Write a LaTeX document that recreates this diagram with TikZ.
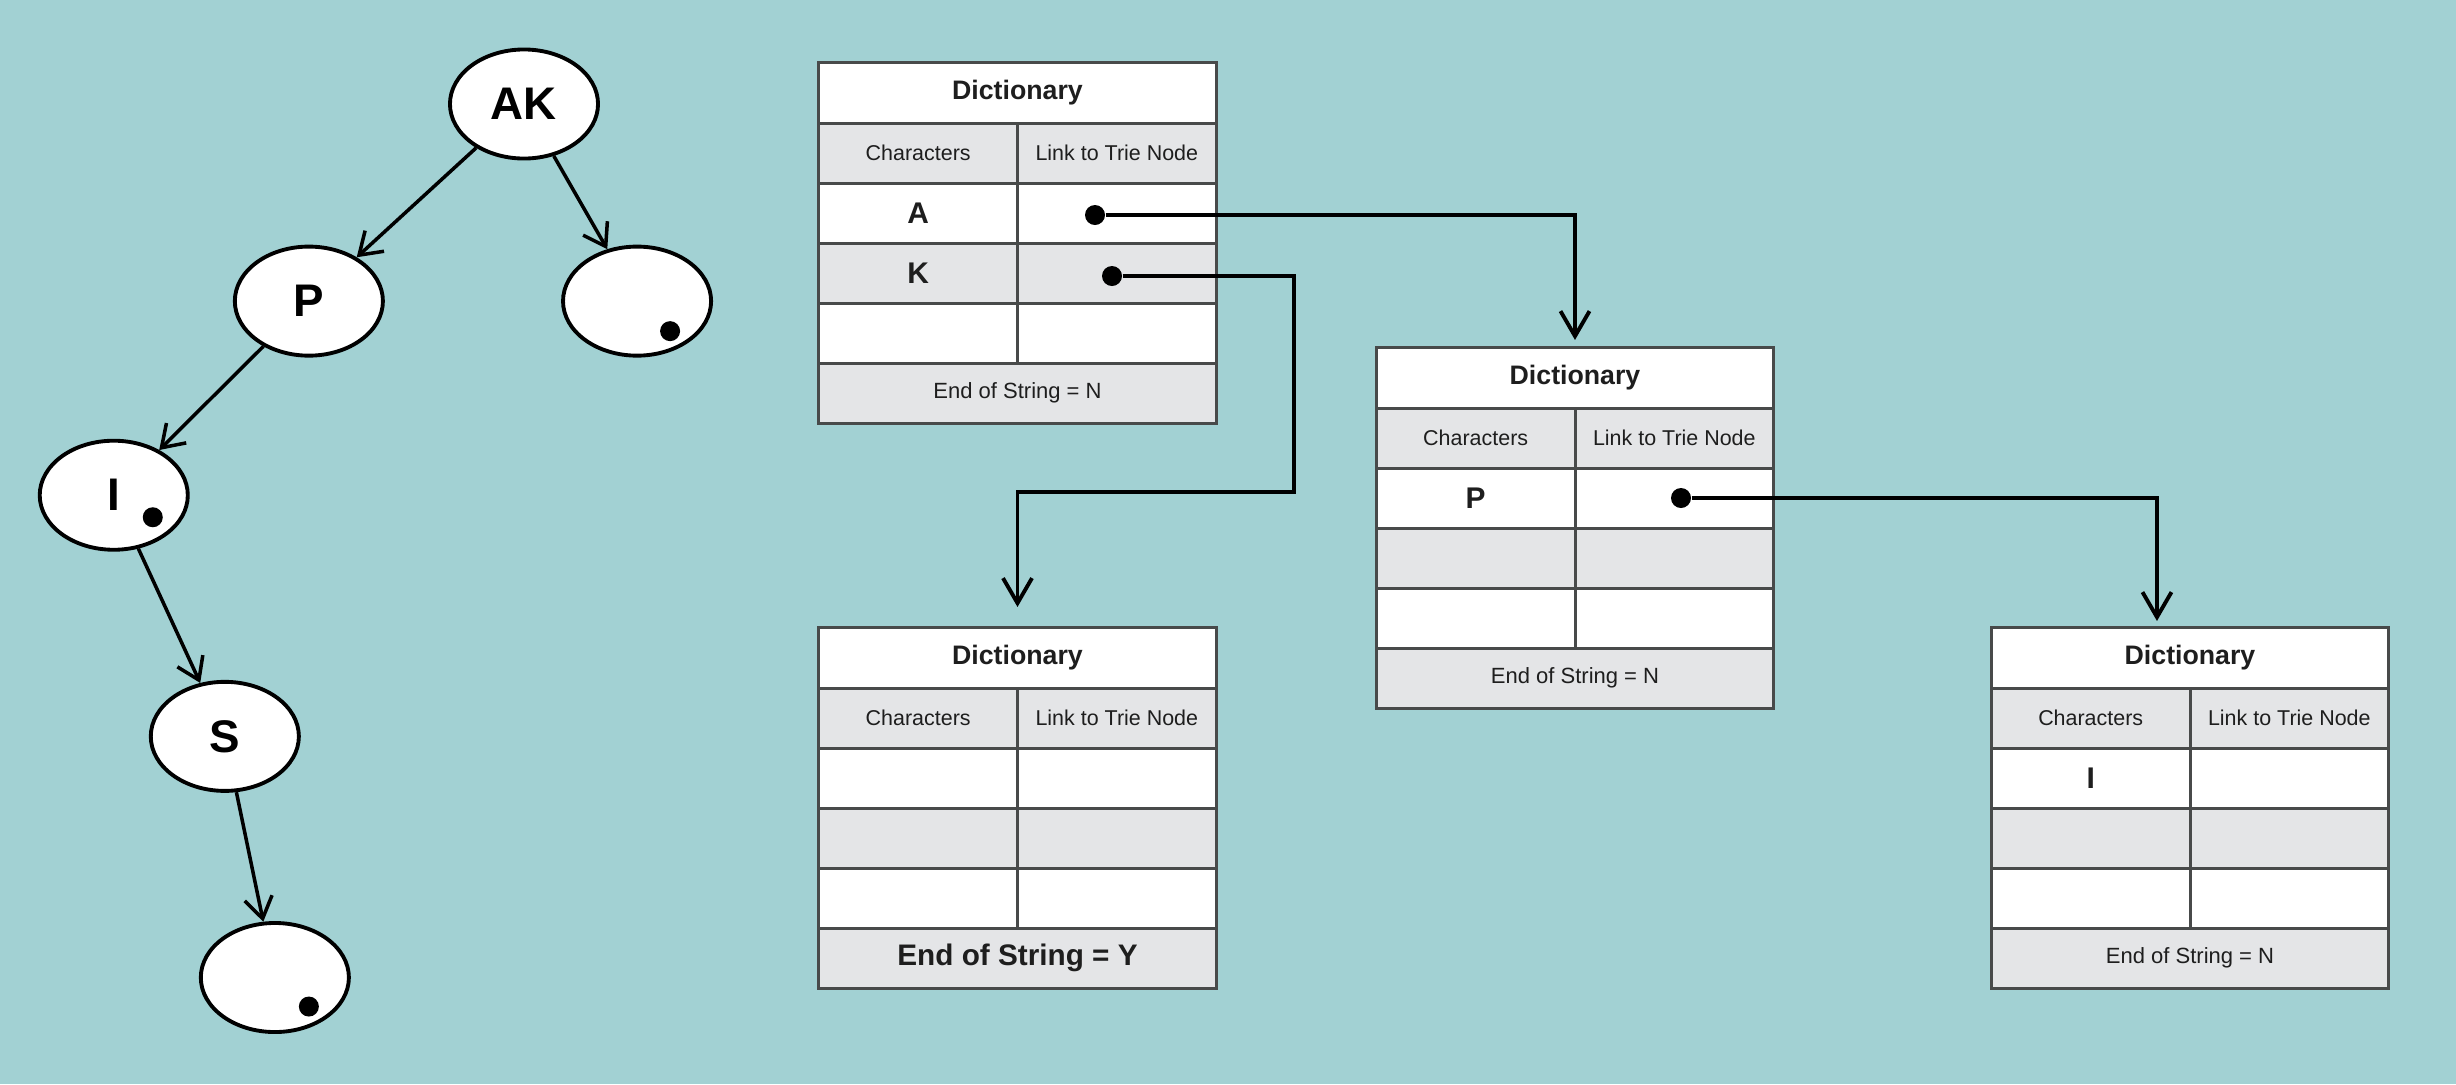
\documentclass[tikz,border=0pt]{standalone}
\usepackage{fontspec}
\setmainfont{Liberation Sans}
\usetikzlibrary{positioning,arrows.meta,shapes.geometric}
\definecolor{bgteal}{RGB}{162,209,211}
\definecolor{cellgray}{RGB}{228,229,231}
\definecolor{rulegray}{RGB}{72,74,74}
\definecolor{inkgray}{RGB}{30,30,30}
\tikzstyle{trienode}=[
	draw=black,
	shape=ellipse,
	fill=white,
	line width=1.1pt,
	minimum width=1.48cm,
	minimum height=1.09cm,
	inner sep=0pt,
	font=\fontsize{13}{13}\selectfont\bfseries
]
\tikzstyle{tdot}=[shape=circle,fill=black,minimum size=0.2cm,inner sep=0pt]
\tikzstyle{tstyle} = [line width=1pt,-{Straight Barb[length=0.21cm,width=0.28cm]}]
\tikzstyle{lstyle} = [draw=black,line width=1.1pt,-{Straight Barb[length=0.25cm,width=0.29cm]}]
\tikzstyle{cellbox}=[
	draw=rulegray,
	line width=0.85pt,
	fill=white,
	minimum width=1.985cm,
	minimum height=0.6cm,
	inner sep=0pt,
	outer sep=0pt,
	text=inkgray,
	font=\fontsize{6.1}{7}\selectfont
]
\tikzstyle{charbox} = [cellbox,font=\fontsize{8.5}{9}\selectfont\bfseries]
\tikzstyle{titlebox} = [cellbox,minimum width=3.97cm,font=\fontsize{7.6}{9}\selectfont\bfseries]
\tikzstyle{eosbox} = [cellbox,minimum width=3.97cm,fill=cellgray,font=\fontsize{6.26}{7}\selectfont]

\begin{document}
\begin{tikzpicture}[x=0.01cm,y=-0.01cm,on grid,node distance=0.6cm]

				\path[use as bounding box,fill=bgteal] (0,0) rectangle (2456,1084);

				% trie
				\node[trienode]	(AK)	at (524,104) {AK};
				\node[trienode]	(P) [below left=1.97cm and 2.15cm of AK] {P};
				\node[trienode]	(R) [below right=1.97cm and 1.13cm of AK] {};
				\node[trienode]	(I) [below left=1.94cm and 1.95cm of P] {I};
				\node[trienode]	(S) [below right=2.41cm and 1.11cm of I] {S};
				\node[trienode]	(E) [below right=2.41cm and 0.5cm of S] {};
				\node[tdot]	(Rdot) [below right=0.3cm and 0.33cm of R] {};
				\node[tdot]	(Idot) [below right=0.22cm and 0.39cm of I] {};
				\node[tdot]	(Edot) [below right=0.29cm and 0.34cm of E] {};

				\path[tstyle]
				(AK) edge (P)
				(AK) edge (R)
				(P) edge (I)
				(I) edge (S)
				(S) edge (E);

				% dictionaries
				\foreach \tbl/\pos/\ca/\cb/\eos in {
					d1/{1017.5,93}/A/K/{End of String = N},
					d2/{1017.5,658}/{}/{}/{\bfseries\fontsize{8.45}{9}\selectfont End of String = Y},
					d3/{1575,378}/P/{}/{End of String = N},
					d4/{2190,658}/I/{}/{End of String = N}}
				{
					\node[titlebox] (\tbl) at (\pos) {Dictionary};
					\node[cellbox,fill=cellgray] (\tbl-h1) [below left=0.6cm and 0.9925cm of \tbl] {Characters};
					\node[cellbox,fill=cellgray] (\tbl-h2) [right=1.985cm of \tbl-h1] {Link to Trie Node};
					\node[charbox] (\tbl-a1) [below=of \tbl-h1] {\ca};
					\node[cellbox] (\tbl-b1) [below=of \tbl-h2] {};
					\node[charbox,fill=cellgray] (\tbl-a2) [below=of \tbl-a1] {\cb};
					\node[cellbox,fill=cellgray] (\tbl-b2) [below=of \tbl-b1] {};
					\node[cellbox] (\tbl-a3) [below=of \tbl-a2] {};
					\node[cellbox] (\tbl-b3) [below=of \tbl-b2] {};
					\node[eosbox] (\tbl-eos) [below=3cm of \tbl] {\eos};
				}

				% links
				\node[tdot] (pA) at (1095,215) {};
				\node[tdot] (pK) at (1112,276) {};
				\node[tdot] (pP) at (1681,498) {};
				\coordinate (kbend) at (1294,492);

				\draw[lstyle,shorten >=0.08cm] (pA) -| (d3.north);
				\draw[lstyle,shorten >=0.21cm] (pK) -| (kbend) -| (d2.north);
				\draw[lstyle,shorten >=0.07cm] (pP) -| ([xshift=-0.33cm]d4.north);

			\end{tikzpicture}
\end{document}
